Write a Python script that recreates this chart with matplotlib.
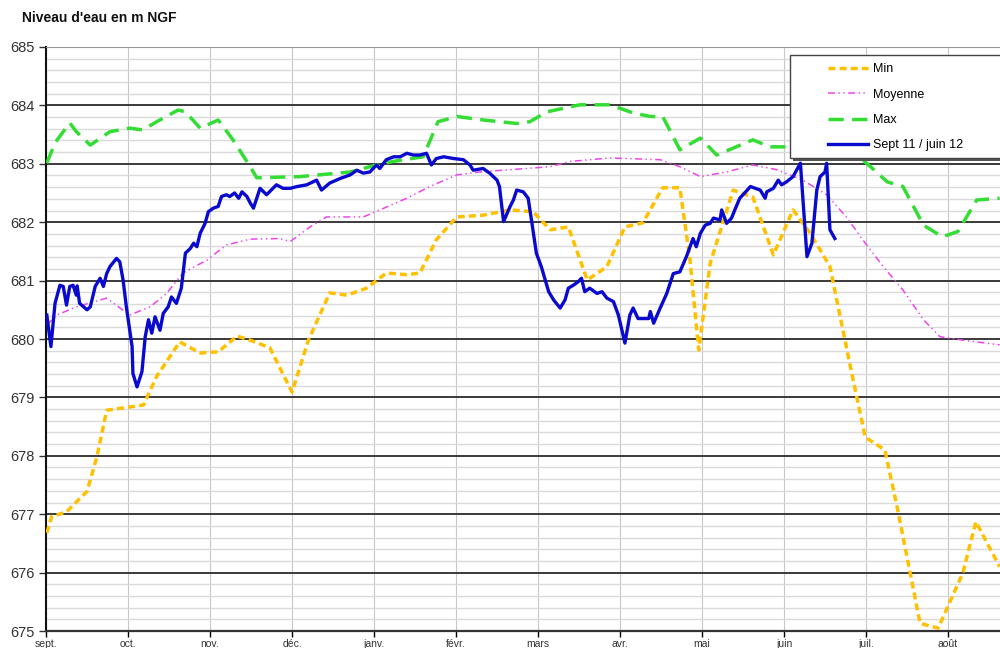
import matplotlib
matplotlib.use("Agg")
import matplotlib.pyplot as plt
from matplotlib.lines import Line2D
from matplotlib.patches import Rectangle
from matplotlib.ticker import MultipleLocator

# --- données (x = mois depuis le 1er sept., y = niveau en m NGF) ---
mois = ["sept.", "oct.", "nov.", "déc.", "janv.", "févr.", "mars",
        "avr.", "mai", "juin", "juil.", "août"]

min_x = [0.01, 0.07, 0.25, 0.50, 0.62, 0.74, 1.19, 1.35, 1.63, 1.88, 2.10, 2.33,
         2.49, 2.73, 3.00, 3.20, 3.46, 3.67, 3.91, 4.15, 4.40, 4.56, 4.76, 5.01,
         5.33, 5.66, 5.94, 6.15, 6.37, 6.60, 6.84, 7.06, 7.28, 7.52, 7.73, 7.85,
         7.96, 8.10, 8.38, 8.62, 8.87, 9.11, 9.32, 9.56, 9.80, 9.99, 10.23, 10.38,
         10.66, 10.88, 11.18, 11.34, 11.63]
min_y = [676.68, 676.96, 677.04, 677.39, 677.98, 678.78, 678.87, 679.36, 679.95,
         679.76, 679.78, 680.05, 679.98, 679.85, 679.09, 679.98, 680.79, 680.75,
         680.87, 681.13, 681.10, 681.13, 681.70, 682.09, 682.12, 682.21, 682.18,
         681.87, 681.92, 681.01, 681.24, 681.92, 681.99, 682.59, 682.59, 681.40,
         679.81, 681.30, 682.55, 682.43, 681.44, 682.21, 681.81, 681.24, 679.59,
         678.32, 678.10, 677.12, 675.13, 675.05, 675.99, 676.87, 676.10]

moy_x = [0.01, 0.13, 0.37, 0.74, 1.02, 1.27, 1.47, 1.67, 1.96, 2.20, 2.49, 2.85,
         2.98, 3.22, 3.42, 3.87, 4.07, 4.40, 4.68, 5.01, 5.29, 5.57, 6.15, 6.39,
         6.88, 7.49, 7.73, 7.98, 8.30, 8.62, 8.91, 9.23, 9.52, 9.76, 9.96, 10.21,
         10.45, 10.70, 10.90, 11.18, 11.63]
moy_y = [680.24, 680.41, 680.55, 680.70, 680.41, 680.55, 680.78, 681.13, 681.35,
         681.61, 681.71, 681.72, 681.67, 681.92, 682.09, 682.09, 682.21, 682.41,
         682.61, 682.81, 682.86, 682.89, 682.95, 683.04, 683.10, 683.07, 682.95,
         682.78, 682.86, 682.98, 682.90, 682.72, 682.47, 682.09, 681.70, 681.24,
         680.84, 680.33, 680.04, 679.98, 679.90]

max_x = [0.01, 0.11, 0.29, 0.37, 0.54, 0.78, 1.02, 1.18, 1.35, 1.61, 1.70, 1.88,
         2.10, 2.28, 2.49, 2.57, 3.10, 3.71, 4.03, 4.23, 4.60, 4.78, 5.01, 5.33,
         5.74, 5.90, 6.11, 6.51, 6.88, 7.16, 7.37, 7.52, 7.73, 7.98, 8.18, 8.62,
         8.83, 9.07, 9.56, 9.96, 10.26, 10.45, 10.70, 10.93, 11.12, 11.35, 11.63]
max_y = [683.01, 683.36, 683.70, 683.55, 683.32, 683.55, 683.61, 683.58, 683.72,
         683.92, 683.89, 683.61, 683.75, 683.41, 682.95, 682.76, 682.78, 682.86,
         682.98, 683.04, 683.12, 683.72, 683.81, 683.75, 683.69, 683.72, 683.89,
         684.01, 684.01, 683.87, 683.81, 683.81, 683.24, 683.44, 683.15, 683.41,
         683.29, 683.29, 683.25, 683.07, 682.69, 682.61, 681.95, 681.75, 681.84,
         682.38, 682.41]

annee_x = [0.01, 0.06, 0.11, 0.17, 0.21, 0.25, 0.29, 0.33, 0.37, 0.38, 0.41, 0.50,
           0.54, 0.60, 0.66, 0.70, 0.74, 0.78, 0.86, 0.90, 0.94, 0.98, 1.05, 1.06,
           1.11, 1.17, 1.21, 1.25, 1.29, 1.33, 1.39, 1.43, 1.49, 1.53, 1.59, 1.65,
           1.70, 1.76, 1.80, 1.84, 1.88, 1.94, 1.98, 2.04, 2.10, 2.14, 2.20, 2.24,
           2.30, 2.35, 2.39, 2.45, 2.49, 2.53, 2.61, 2.69, 2.81, 2.89, 2.98, 3.06,
           3.18, 3.30, 3.36, 3.46, 3.59, 3.71, 3.79, 3.87, 3.95, 4.03, 4.07, 4.15,
           4.24, 4.32, 4.40, 4.48, 4.56, 4.64, 4.70, 4.76, 4.85, 4.97, 5.09, 5.17,
           5.21, 5.33, 5.41, 5.50, 5.53, 5.58, 5.66, 5.70, 5.74, 5.82, 5.88, 5.92,
           5.98, 6.04, 6.13, 6.19, 6.27, 6.33, 6.37, 6.43, 6.49, 6.53, 6.57, 6.63,
           6.72, 6.78, 6.84, 6.92, 6.98, 7.06, 7.12, 7.16, 7.22, 7.35, 7.37, 7.41,
           7.49, 7.57, 7.65, 7.73, 7.81, 7.89, 7.93, 7.98, 8.04, 8.10, 8.14, 8.22,
           8.24, 8.30, 8.36, 8.40, 8.46, 8.52, 8.59, 8.65, 8.71, 8.77, 8.79, 8.87,
           8.93, 8.97, 9.03, 9.11, 9.20, 9.24, 9.28, 9.34, 9.40, 9.44, 9.50, 9.52,
           9.56, 9.62]
annee_y = [680.41, 679.87, 680.61, 680.92, 680.90, 680.58, 680.90, 680.92, 680.75,
           680.91, 680.61, 680.50, 680.55, 680.90, 681.04, 680.90, 681.12, 681.24,
           681.38, 681.32, 681.01, 680.55, 679.87, 679.41, 679.18, 679.44, 680.04,
           680.33, 680.10, 680.38, 680.15, 680.44, 680.55, 680.72, 680.61, 680.87,
           681.47, 681.55, 681.64, 681.58, 681.81, 681.98, 682.18, 682.24, 682.27,
           682.44, 682.47, 682.44, 682.50, 682.41, 682.52, 682.44, 682.33, 682.24,
           682.58, 682.47, 682.64, 682.58, 682.58, 682.61, 682.64, 682.72, 682.55,
           682.67, 682.75, 682.81, 682.89, 682.84, 682.86, 682.98, 682.92, 683.07,
           683.12, 683.12, 683.18, 683.15, 683.15, 683.18, 682.98, 683.09, 683.12,
           683.09, 683.07, 682.98, 682.89, 682.92, 682.84, 682.72, 682.61, 682.01,
           682.27, 682.38, 682.55, 682.52, 682.41, 682.04, 681.47, 681.24, 680.81,
           680.67, 680.53, 680.67, 680.87, 680.92, 680.98, 681.04, 680.81, 680.87,
           680.78, 680.81, 680.70, 680.64, 680.41, 679.93, 680.41, 680.53, 680.35,
           680.35, 680.47, 680.27, 680.53, 680.78, 681.12, 681.15, 681.41, 681.72,
           681.58, 681.81, 681.95, 681.98, 682.07, 682.04, 682.21, 681.98, 682.07,
           682.21, 682.41, 682.50, 682.61, 682.58, 682.55, 682.41, 682.52, 682.58,
           682.72, 682.64, 682.69, 682.78, 683.01, 682.21, 681.41, 681.64, 682.55,
           682.78, 682.86, 683.01, 681.87, 681.72]

# --- couleurs / styles ---
C_MIN = "#FFC000"
C_MOY = "#EE44EE"
C_MAX = "#33DD33"
C_ANN = "#0A0ACF"

plt.rcParams["font.family"] = ["Liberation Sans", "DejaVu Sans"]
plt.rcParams["lines.scale_dashes"] = False

fig = plt.figure(figsize=(10, 6.48), dpi=100)
ax = fig.add_axes([0.046, 0.0262, 0.954, 0.9013])

ax.plot(min_x, min_y, color=C_MIN, lw=2.5, dashes=(5, 3), zorder=3)
ax.plot(moy_x, moy_y, color=C_MOY, lw=1.1, dashes=(5, 2.5, 1, 2.5, 1, 2.5), zorder=3)
ax.plot(max_x, max_y, color=C_MAX, lw=2.5, dashes=(11, 6), zorder=3)
ax.plot(annee_x, annee_y, color=C_ANN, lw=2.4, zorder=4)

ax.set_xlim(0, 11.634)
ax.set_ylim(675, 685)

ax.set_yticks(range(675, 686))
ax.yaxis.set_minor_locator(MultipleLocator(0.2))
ax.set_xticks(range(len(mois)))
ax.set_xticklabels(mois, fontsize=7.5, color="#333333")
ax.tick_params(axis="y", labelsize=10.5, colors="#333333", length=5, width=1, pad=3)
ax.tick_params(axis="y", which="minor", length=0)
ax.tick_params(axis="x", length=4, width=1, pad=2)

ax.grid(axis="y", which="minor", color="#DADADA", lw=1.0, zorder=0)
ax.grid(axis="y", which="major", color="#3A3A3A", lw=1.4, zorder=1)
ax.grid(axis="x", which="major", color="#C8C8C8", lw=0.8, zorder=0)
ax.set_axisbelow(True)

ax.spines["right"].set_visible(False)
ax.spines["top"].set_color("#999999")
ax.spines["left"].set_color("#111111")
ax.spines["left"].set_linewidth(1.5)
ax.spines["bottom"].set_color("#333333")
ax.spines["bottom"].set_linewidth(1.6)

fig.text(0.022, 0.972, "Niveau d'eau en m NGF", fontsize=10, fontweight="bold",
         va="center", ha="left", color="#111111")

# cadre de légende avec ombre
fig.patches.append(Rectangle((0.793, 0.752), 0.25, 0.159, transform=fig.transFigure,
                             facecolor="#555555", edgecolor="none", zorder=2))
fig.patches.append(Rectangle((0.790, 0.756), 0.25, 0.159, transform=fig.transFigure,
                             facecolor="white", edgecolor="#444444", lw=1, zorder=3))

handles = [
    Line2D([], [], color=C_MIN, lw=2.5, dashes=(5, 3)),
    Line2D([], [], color=C_MOY, lw=1.1, dashes=(5, 2.5, 1, 2.5, 1, 2.5)),
    Line2D([], [], color=C_MAX, lw=2.5, dashes=(11, 6)),
    Line2D([], [], color=C_ANN, lw=2.4),
]
labels = ["Min", "Moyenne", "Max", "Sept 11 / juin 12"]
leg = fig.legend(handles, labels, loc="upper left", bbox_to_anchor=(0.822, 0.912),
                 frameon=False, fontsize=9, borderpad=0, handlelength=3.2,
                 handletextpad=0.4, labelspacing=1.07)
leg.set_zorder(5)

fig.savefig("out.png", dpi=100)
